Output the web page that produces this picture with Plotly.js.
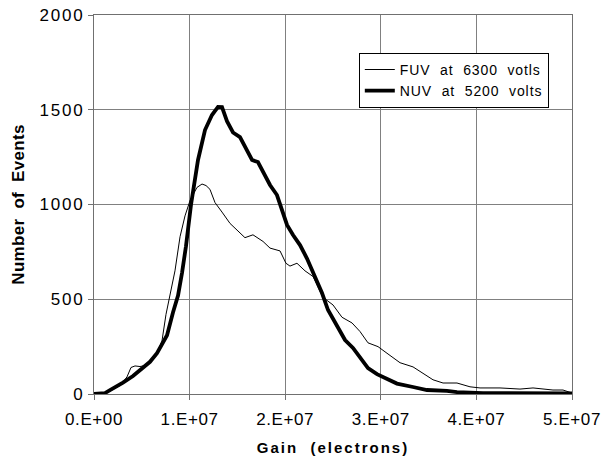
<!DOCTYPE html>
<html>
<head>
<meta charset="utf-8">
<script src="https://cdn.plot.ly/plotly-3.0.1.min.js"></script>
<style>
html,body{margin:0;padding:0;background:#fff;}
#chart{width:605px;height:456px;}
.ytick text{letter-spacing:1.8px;}
.xtick text{letter-spacing:0.6px;}
.xtitle{letter-spacing:2px;}
.ytitle{letter-spacing:0.3px;}
.legendtext{letter-spacing:0.9px;}
</style>
</head>
<body>
<div id="chart"></div>
<script>
// Gain (electrons)
var fuvGain = [0,0.63e6,1.67e6,2.72e6,3.45e6,3.87e6,4.29e6,4.81e6,5.33e6,6.07e6,
  6.59e6,7.11e6,7.53e6,7.95e6,8.47e6,9.00e6,9.52e6,10.04e6,10.77e6,11.30e6,
  11.72e6,12.13e6,12.66e6,13.39e6,14.23e6,14.96e6,15.79e6,16.63e6,17.68e6,18.41e6,
  19.46e6,20.08e6,20.50e6,21.23e6,22.07e6,22.91e6,23.95e6,25.00e6,25.94e6,26.99e6,
  27.82e6,28.66e6,29.71e6,30.65e6,31.28e6,32.01e6,33.37e6,34.41e6,35.46e6,36.51e6,
  37.97e6,39.33e6,40.38e6,42.47e6,44.56e6,45.92e6,48.01e6,49.06e6,50.00e6];
var fuvCount = [0,2,15,45,90,140,148,145,150,180,
  216,280,420,520,650,830,940,1020,1090,1108,
  1100,1080,1010,960,900,865,825,840,805,770,
  755,690,675,690,650,620,510,470,405,375,
  330,270,250,215,190,165,143,111,75,58,
  58,38,32,32,26,32,21,21,5];

var nuvGain = [0,1.15e6,1.67e6,2.41e6,3.03e6,4.08e6,5.13e6,5.86e6,6.59e6,7.11e6,
  7.64e6,8.26e6,8.79e6,9.21e6,9.62e6,10.15e6,10.88e6,11.61e6,12.34e6,12.97e6,
  13.39e6,13.91e6,14.54e6,15.27e6,16.00e6,16.53e6,17.15e6,17.68e6,18.41e6,19.14e6,
  19.67e6,20.19e6,20.82e6,21.55e6,22.28e6,23.12e6,23.85e6,24.48e6,25.42e6,26.26e6,
  27.09e6,27.82e6,28.66e6,29.60e6,30.65e6,31.69e6,33.37e6,34.83e6,36.92e6,37.97e6,
  40.69e6,45.92e6,50.00e6];
var nuvCount = [0,5,20,40,60,95,137,170,216,260,
  310,430,520,640,780,1000,1235,1393,1472,1515,
  1514,1440,1380,1356,1290,1235,1224,1171,1103,1050,
  971,892,839,786,715,617,533,443,354,285,
  243,190,137,105,80,55,37,21,16,10,
  5,5,3];

var xTickVals = [0,1e7,2e7,3e7,4e7,5e7];
var xTickText = ['0.E+00','1.E+07','2.E+07','3.E+07','4.E+07','5.E+07'];
var yTickVals = [0,500,1000,1500,2000];

var FONT = 'Liberation Sans, Arial, sans-serif';

var traces = [
  {x: fuvGain, y: fuvCount, type: 'scatter', mode: 'lines', name: 'FUV  at  6300  votls',
   line: {color: '#000', width: 1}},
  {x: nuvGain, y: nuvCount, type: 'scatter', mode: 'lines', name: 'NUV  at  5200  volts',
   line: {color: '#000', width: 3.8}}
];

var axisCommon = {
  showline: true, linecolor: '#707070', linewidth: 1, mirror: true,
  showgrid: true, gridcolor: '#808080', gridwidth: 1,
  zeroline: false, ticks: 'outside', ticklen: 5, tickcolor: '#707070'
};

var layout = {
  width: 605, height: 456,
  margin: {l: 94, r: 33, t: 15, b: 62},
  paper_bgcolor: '#fff', plot_bgcolor: '#fff',
  showlegend: true,
  legend: {x: 0.554, y: 0.90, xanchor: 'left', yanchor: 'top',
    bordercolor: '#000', borderwidth: 1, bgcolor: '#fff',
    font: {family: FONT, size: 14, color: '#000'},
    tracegroupgap: 0},
  xaxis: Object.assign({}, axisCommon, {
    range: [0, 5e7], tickvals: xTickVals, ticktext: xTickText,
    ticklabelstandoff: 5,
    tickfont: {family: FONT, size: 17, color: '#000'},
    title: {text: '<b>Gain  (electrons)</b>', standoff: 14,
      font: {family: FONT, size: 15, color: '#000'}}
  }),
  yaxis: Object.assign({}, axisCommon, {
    range: [0, 2000], tickvals: yTickVals,
    tickfont: {family: FONT, size: 17, color: '#000'},
    title: {text: '<b>Number  of  Events</b>', standoff: 10,
      font: {family: FONT, size: 17, color: '#000'}}
  })
};

Plotly.newPlot('chart', traces, layout, {displayModeBar: false, staticPlot: true});
</script>
</body>
</html>
